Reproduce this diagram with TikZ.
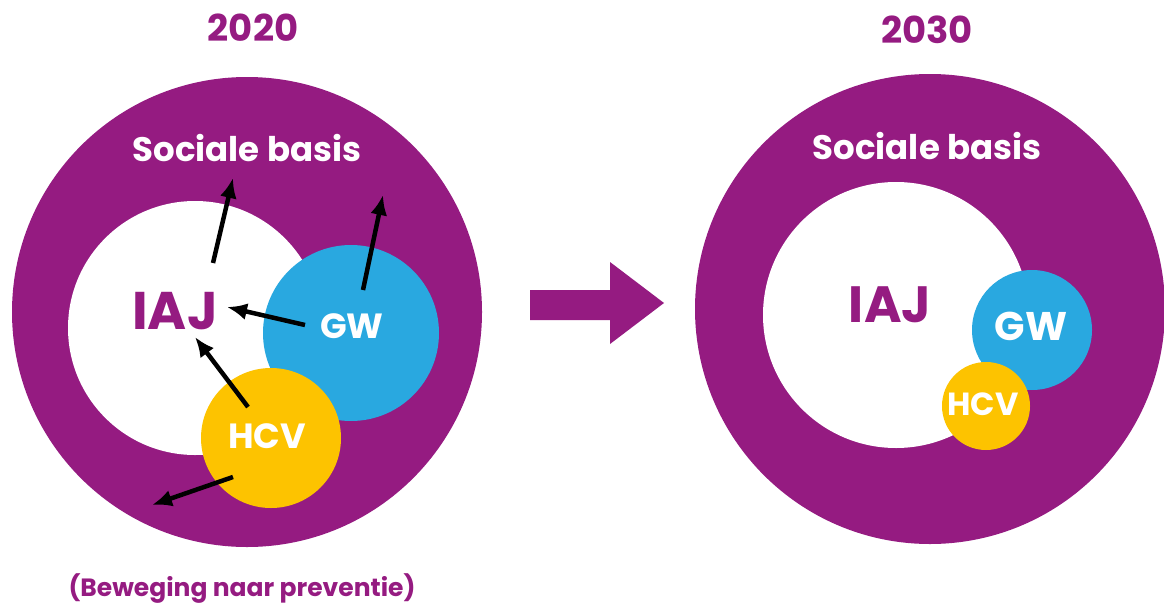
\documentclass[tikz,border=0pt]{standalone}
\usepackage{fontspec}
\setmainfont{Poppins}
\usetikzlibrary{arrows.meta}
\definecolor{paars}{RGB}{149,27,129}
\definecolor{blauw}{RGB}{41,168,224}
\definecolor{geel}{RGB}{253,195,0}

\begin{document}
\begin{tikzpicture}[x=1pt,y=-1pt,
  arr/.style={-{Latex[length=20pt,width=17pt]},line width=4.5pt},
  lbl/.style={inner sep=0pt,font=\bfseries\fontsize{#1}{#1}\selectfont}]
\useasboundingbox (0,0) rectangle (1164,605);

% 2020
\coordinate (o) at (247,312);
\coordinate (i) at (195,328);
\coordinate (g) at (351,333);
\coordinate (h) at (271,438);
\fill[paars] (o) circle (235pt);
\fill[white] (i) circle (127pt);
\fill[blauw] (g) circle (88pt);
\fill[geel] (h) circle (70pt);

\node[lbl=37,text=paars] (jaarA) at (253,28) {2020};
\node[lbl=34,text=white] (basisA) at (247,148) {Sociale basis};
\node[lbl=53,text=paars] (iajA) at (175,311) {IAJ};
\node[lbl=35,text=white] (gwA) at (352,326) {GW};
\node[lbl=35,text=white] (hcvA) at (267,436) {HCV};
\node[lbl=25,text=paars] (preventie) at (242,589) {(Beweging naar preventie)};

\coordinate (a) at (213,263);
\coordinate (a') at (233,178);
\coordinate (b) at (363,290);
\coordinate (b') at (383,195);
\coordinate (d) at (305,325);
\coordinate (d') at (227,307);
\coordinate (e) at (248,407);
\coordinate (e') at (195,337);
\coordinate (f) at (233,477);
\coordinate (f') at (152,505);
\draw[arr] (a) to (a');
\draw[arr] (b) to (b');
\draw[arr] (d) to (d');
\draw[arr] (e) to (e');
\draw[arr] (f) to (f');

% pijl
\fill[paars] (530,290) -- (610,290) -- (610,262) -- (664,303)
  -- (610,344) -- (610,320) -- (530,320) -- cycle;

% 2030
\coordinate (o2) at (930,309);
\coordinate (i2) at (896,315);
\coordinate (g2) at (1032,330);
\coordinate (h2) at (986,406);
\fill[paars] (o2) circle (235pt);
\fill[white] (i2) circle (133pt);
\fill[blauw] (g2) circle (60pt);
\fill[geel] (h2) circle (44pt);

\node[lbl=37,text=paars] (jaarB) at (927,30) {2030};
\node[lbl=34,text=white] (basisB) at (927,146) {Sociale basis};
\node[lbl=51,text=paars] (iajB) at (890,305) {IAJ};
\node[lbl=40,text=white] (gwB) at (1031,326) {GW};
\node[lbl=32,text=white] (hcvB) at (983,404) {HCV};

\end{tikzpicture}
\end{document}
